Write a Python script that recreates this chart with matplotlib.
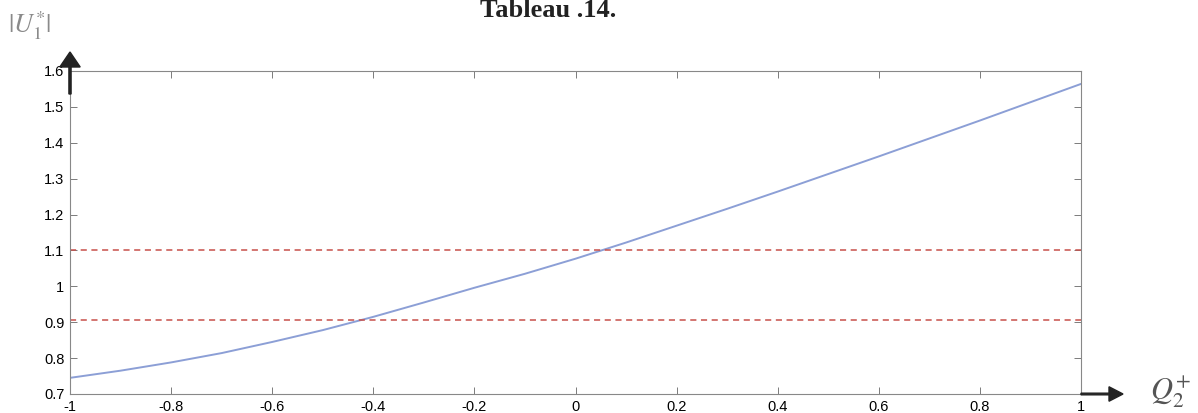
import matplotlib
matplotlib.use("Agg")
import matplotlib.pyplot as plt

q2 = [-1.0, -0.9, -0.8, -0.7, -0.6, -0.5, -0.4, -0.3, -0.2, -0.1, 0.0, 0.1, 0.2, 0.3, 0.4, 0.5, 0.6, 0.7, 0.8, 0.9, 1.0]
u1 = [0.745, 0.765, 0.788, 0.814, 0.845, 0.878, 0.915, 0.955, 0.996, 1.035, 1.077, 1.122, 1.169, 1.216, 1.264, 1.313, 1.362, 1.412, 1.462, 1.513, 1.564]
limits = [0.905, 1.1]
xticks = [-1, -0.8, -0.6, -0.4, -0.2, 0, 0.2, 0.4, 0.6, 0.8, 1]
yticks = [0.7, 0.8, 0.9, 1, 1.1, 1.2, 1.3, 1.4, 1.5, 1.6]

fig = plt.figure(figsize=(11.98, 4.13), dpi=100)
ax = fig.add_axes([70/1198, 1-394/413, (1081-70)/1198, (394-71)/413])
ax.plot(q2, u1, color="#8c9fd6", lw=1.4)
for v in limits:
    ax.axhline(v, color="#c8504a", lw=1.1, ls=(0, (4, 3)))
ax.set_xlim(-1, 1)
ax.set_ylim(0.7, 1.6)
ax.set_xticks(xticks)
ax.set_xticklabels([f"{t:g}" for t in xticks])
ax.set_yticks(yticks)
ax.set_yticklabels([f"{t:g}" for t in yticks])
ax.tick_params(direction="in", top=True, right=True, length=5, width=0.6,
               color="#666666", labelsize=10.5, pad=4)
for s in ax.spines.values():
    s.set_color("#888888")
    s.set_linewidth(0.8)
for lab in ax.get_xticklabels() + ax.get_yticklabels():
    lab.set_fontfamily("Liberation Sans")

# axis arrows
fig.patches.append(matplotlib.patches.FancyArrow(70/1198, 1-94/413, 0, 42/413 - 15/413,
    width=0.0018, head_width=0.017, head_length=15/413, color="#222222",
    transform=fig.transFigure, length_includes_head=False))
fig.patches.append(matplotlib.patches.FancyArrow(1081/1198, 1-394/413, 28/1198, 0,
    width=0.004, head_width=0.035, head_length=14/1198, color="#222222",
    transform=fig.transFigure))

fig.text(548/1198, 1-17/413, "Tableau .14.", ha="center", va="baseline",
         fontfamily="Liberation Serif", fontweight="bold", fontsize=19, color="#222222")
fig.text(8/1198, 1-33/413, r"$|U_1^{*}|$", ha="left", va="baseline",
         fontsize=19, color="#8a8a8a", math_fontfamily="stix")
fig.text(1150/1198, 1-400/413, r"$Q_2^{+}$", ha="left", va="baseline",
         fontsize=22, color="#555555", math_fontfamily="stix")

fig.savefig("out.png", dpi=100)
